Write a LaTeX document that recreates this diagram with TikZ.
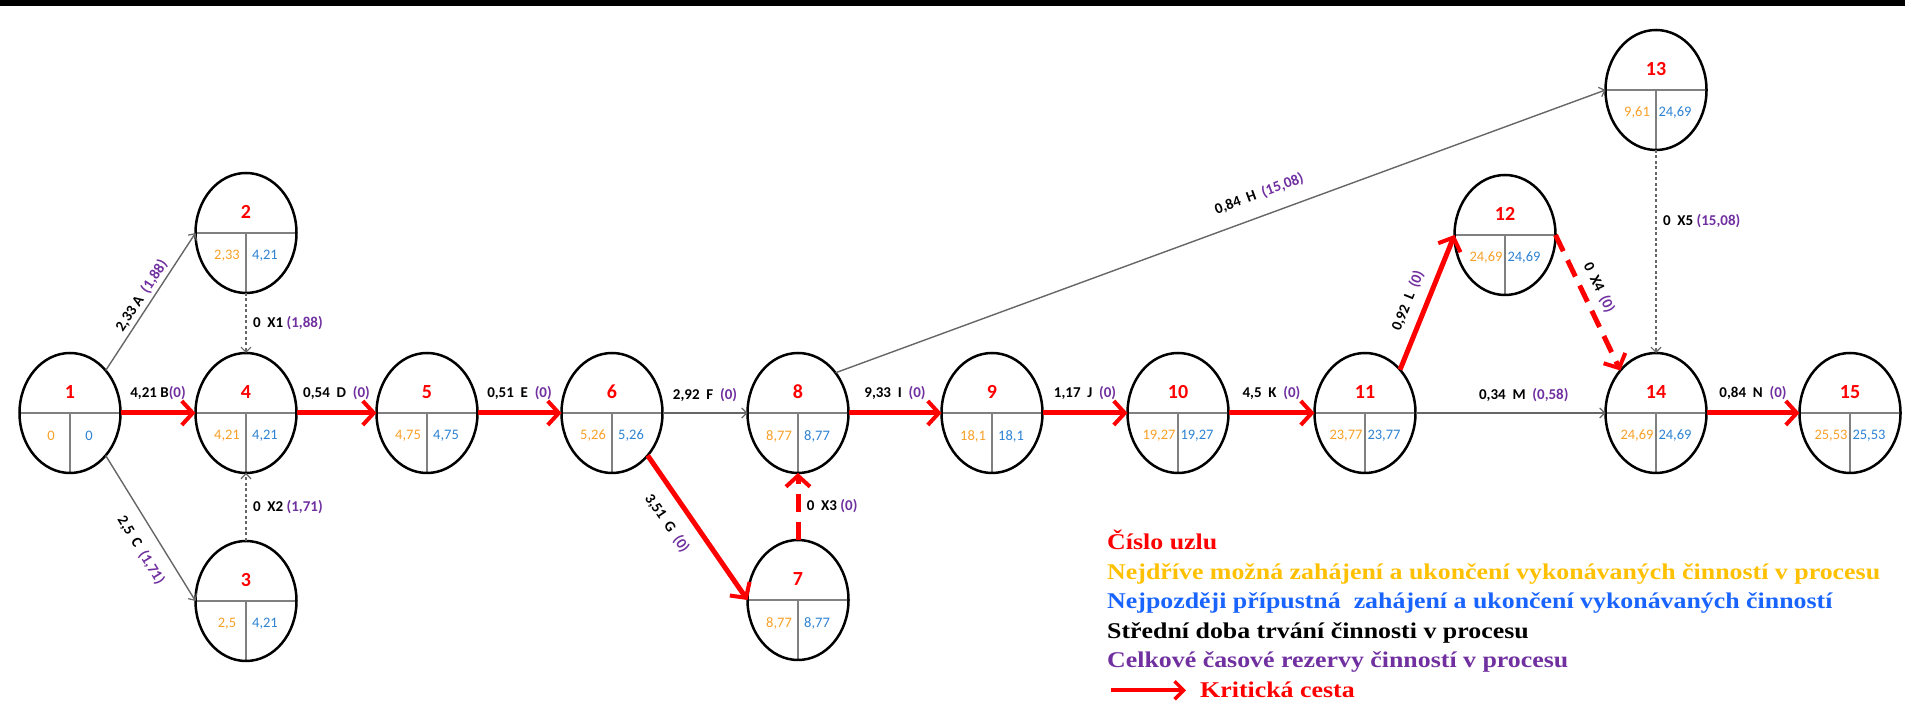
\documentclass[tikz,border=0pt]{standalone}
\usepackage{fontspec}
\setmainfont{Carlito}
\newfontfamily\legenda[FakeStretch=1.15]{Liberation Serif}
\usepackage{xcolor}
\usetikzlibrary{shapes.geometric,arrows.meta,positioning}

\definecolor{cislocol}{RGB}{255,0,0}
\definecolor{nejdrcol}{RGB}{247,160,40}
\definecolor{nejpcol}{RGB}{45,130,210}
\definecolor{rezcol}{RGB}{112,48,160}
\definecolor{carycol}{RGB}{128,128,128}
\definecolor{legzlut}{RGB}{255,192,0}
\definecolor{legmodr}{RGB}{25,100,255}

\newcommand{\rez}[1]{\textcolor{rezcol}{#1}}

\begin{document}
\begin{tikzpicture}[
              x=1pt, y=1pt,
              uzel/.style n args={3}{ellipse, draw, line width=2.5pt,
                minimum width=101pt, minimum height=120pt, inner sep=0pt, outer sep=0pt,
                path picture={
                  \draw[carycol, line width=2pt] (path picture bounding box.west) -- (path picture bounding box.east);
                  \draw[carycol, line width=1.5pt] (path picture bounding box.center) -- (path picture bounding box.south);
                  \node[anchor=center, text=cislocol, font=\fontsize{20}{20}\selectfont\bfseries]
                    at ([yshift=21pt]path picture bounding box.center) {#1};
                  \node[anchor=center, text=nejdrcol, font=\fontsize{14.5}{14.5}\selectfont]
                    at ([xshift=-19pt,yshift=-23pt]path picture bounding box.center) {#2};
                  \node[anchor=center, text=nejpcol, font=\fontsize{14.5}{14.5}\selectfont]
                    at ([xshift=19pt,yshift=-23pt]path picture bounding box.center) {#3};
                }},
              krit/.style={draw=red, line width=5pt, -{Straight Barb[length=11pt,width=24pt,line width=4pt]}},
              kritfikt/.style={krit, dash pattern=on 18pt off 10pt},
              cinnost/.style={draw=black!60, line width=1.4pt, -{Straight Barb[length=5pt,width=10pt,line width=1.2pt]}},
              fikt/.style={cinnost, dash pattern=on 3pt off 2.5pt},
              popis/.style={font=\fontsize{15}{15}\selectfont\bfseries, text=black},
              legtext/.style={anchor=base west, inner sep=0pt, font=\legenda\fontsize{22.5}{22.5}\selectfont\bfseries},
              legkrit/.style={draw=red, line width=4pt, -{Straight Barb[length=9pt,width=18pt,line width=3.5pt]}}
            ]

            \useasboundingbox (0,0) rectangle (1905,711);
            \fill[black] (0,705) rectangle (1905,711);

            % Nodes
            \node[uzel={1}{0}{0}] (1) at (70,298) {};
            \node[uzel={4}{4,21}{4,21}, right=75pt of 1] (4) {};
            \node[uzel={2}{2,33}{4,21}, above=60pt of 4] (2) {};
            \node[uzel={3}{2,5}{4,21}, below=68pt of 4] (3) {};
            \node[uzel={5}{4,75}{4,75}, right=80pt of 4] (5) {};
            \node[uzel={6}{5,26}{5,26}, right=84pt of 5] (6) {};
            \node[uzel={8}{8,77}{8,77}, right=85pt of 6] (8) {};
            \node[uzel={7}{8,77}{8,77}, below=67pt of 8] (7) {};
            \node[uzel={9}{18,1}{18,1}, right=93pt of 8] (9) {};
            \node[uzel={10}{19,27}{19,27}, right=85pt of 9] (10) {};
            \node[uzel={11}{23,77}{23,77}, right=86pt of 10] (11) {};
            \node[uzel={14}{24,69}{24,69}, right=190pt of 11] (14) {};
            \node[uzel={13}{9,61}{24,69}, above=203pt of 14] (13) {};
            \node[uzel={12}{24,69}{24,69}] (12) at (1505,476) {};
            \node[uzel={15}{25,53}{25,53}, right=93pt of 14] (15) {};

            % Edges
            \draw[cinnost] (1.50) -- node[popis, sloped, above] (lA) {2,33 A~~\rez{(1,88)}} (2.west);
            \draw[krit] (1) -- node[popis, above=7pt] (lB) {4,21 B\rez{(0)}} (4);
            \draw[cinnost] (1.-50) -- node[popis, sloped, below=9pt, pos=0.58] (lC) {2,5~~C~~\rez{(1,71)}} (3.west);
            \draw[fikt] (2) -- node[popis, right=3pt] (lX1) {0~~X1 \rez{(1,88)}} (4);
            \draw[fikt] (3) -- node[popis, right=3pt] (lX2) {0~~X2 \rez{(1,71)}} (4);
            \draw[krit] (4) -- node[popis, above=7pt] (lD) {0,54~~D~~\rez{(0)}} (5);
            \draw[krit] (5) -- node[popis, above=7pt] (lE) {0,51~~E~~\rez{(0)}} (6);
            \draw[cinnost] (6) -- node[popis, above=7pt] (lF) {2,92~~F~~\rez{(0)}} (8);
            \draw[krit] (6.-50) -- node[popis, sloped, below=10pt, pos=0.38] (lG) {3,51~~G~~\rez{(0)}} (7.west);
            \draw[kritfikt] (7) -- node[popis, right=3pt] (lX3) {0~~X3 \rez{(0)}} (8);
            \draw[cinnost] (8.47) -- node[popis, sloped, above=11pt, pos=0.56] (lH) {0,84~~H~~\rez{(15,08)}} (13.west);
            \draw[krit] (8) -- node[popis, above=7pt] (lI) {9,33~~I~~\rez{(0)}} (9);
            \draw[krit] (9) -- node[popis, above=7pt] (lJ) {1,17~~J~~\rez{(0)}} (10);
            \draw[krit] (10) -- node[popis, above=7pt] (lK) {4,5~~K~~\rez{(0)}} (11);
            \draw[krit] (11.51) -- node[popis, sloped, above=6pt, pos=0.46] (lL) {0,92~~L~~\rez{(0)}} (12.west);
            \draw[cinnost] (11) -- node[popis, above=7pt, pos=0.57] (lM) {0,34~~M~~\rez{(0,58)}} (14);
            \draw[kritfikt] (12.east) -- node[popis, sloped, above=4pt, pos=0.44] (lX4) {0~~X4~~\rez{(0)}} (14.130);
            \draw[fikt] (13) -- node[popis, right=3pt, pos=0.35] (lX5) {0~~X5 \rez{(15,08)}} (14);
            \draw[krit] (14) -- node[popis, above=7pt] (lN) {0,84~~N~~\rez{(0)}} (15);

            % Legend
            \node[legtext, text=red] (leg1) at (1107,161) {Číslo uzlu};
            \node[legtext, text=legzlut] (leg2) at (1107,131) {Nejdříve možná zahájení a ukončení vykonávaných činností v procesu};
            \node[legtext, text=legmodr] (leg3) at (1107,102) {Nejpozději přípustná~ zahájení a ukončení vykonávaných činností};
            \node[legtext, text=black] (leg4) at (1107,72) {Střední doba trvání činnosti v procesu};
            \node[legtext, text=rezcol] (leg5) at (1107,43) {Celkové časové rezervy činností v procesu};
            \node[legtext, text=red] (kc) at (1200,13) {Kritická cesta};
            \coordinate (kz) at ([xshift=-89pt]kc.west);
            \draw[legkrit] (kz) -- ([xshift=-14pt]kc.west);

            \end{tikzpicture}
\end{document}
